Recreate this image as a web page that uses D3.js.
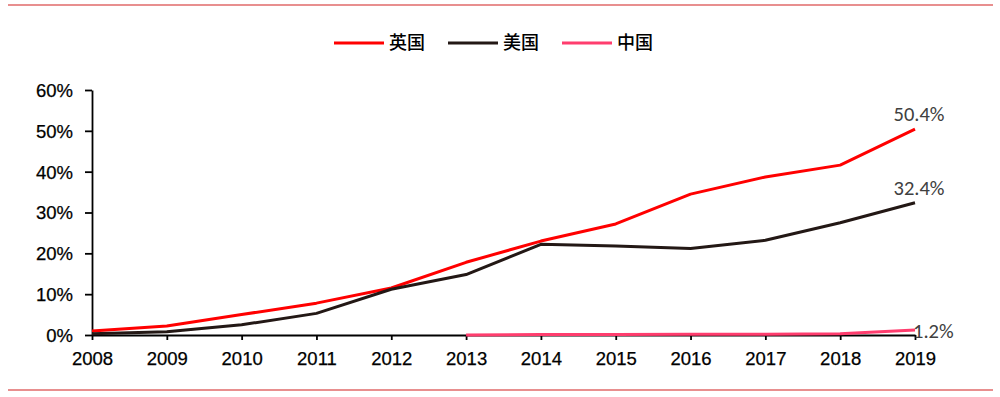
<!DOCTYPE html>
<html>
<head>
<meta charset="utf-8">
<script src="https://cdn.jsdelivr.net/npm/d3@7"></script>
<style>
  body { margin: 0; background: #fff; }
  svg text { font-family: "Liberation Sans", Arial, sans-serif; }
</style>
</head>
<body>
<svg id="chart" width="1000" height="397"></svg>
<script>
// --- Data ---
const years = [2008, 2009, 2010, 2011, 2012, 2013, 2014, 2015, 2016, 2017, 2018, 2019];
const uk = [1.0, 2.2, 5.0, 7.8, 11.5, 17.8, 23.0, 27.2, 34.5, 38.7, 41.6, 50.4];
const us = [0.3, 0.8, 2.5, 5.3, 11.2, 14.8, 22.2, 21.8, 21.2, 23.2, 27.5, 32.4];
const cn = [null, null, null, null, null, 0.0, 0.1, 0.1, 0.2, 0.2, 0.3, 1.2];
const yTicks = [0, 10, 20, 30, 40, 50, 60];

const series = [
  {name: "英国", values: uk, color: "#ff0000"},
  {name: "美国", values: us, color: "#231815"},
  {name: "中国", values: cn, color: "#ff3d6e"}
];

const svg = d3.select("#chart");

// horizontal rules top and bottom
[5, 390].forEach(yy => {
  svg.append("line")
    .attr("x1", 8).attr("x2", 993)
    .attr("y1", yy).attr("y2", yy)
    .attr("stroke", "#e06a6a")
    .attr("stroke-width", 1.5);
});

const x = d3.scaleLinear().domain([2008, 2019]).range([92, 915]);
const y = d3.scaleLinear().domain([0, 60]).range([335, 90]);

// y axis
const yAxis = svg.append("g")
  .attr("transform", "translate(92,0)")
  .call(d3.axisLeft(y).tickValues(yTicks).tickFormat(d => d + "%").tickSize(7).tickSizeOuter(0));
yAxis.select(".domain").attr("stroke", "#000").attr("stroke-width", 1.8);
yAxis.selectAll(".tick line").attr("stroke", "#000").attr("stroke-width", 1.8);
yAxis.selectAll("text")
  .attr("x", -19)
  .attr("dy", "0.35em")
  .style("font-size", "18.5px")
  .style("stroke", "#000").style("stroke-width", 0.25)
  .attr("fill", "#000");

// x axis
const xAxis = svg.append("g")
  .attr("transform", "translate(0,335)")
  .call(d3.axisBottom(x).tickValues(years).tickFormat(d3.format("d")).tickSize(5).tickSizeOuter(0));
xAxis.select(".domain").attr("stroke", "#000").attr("stroke-width", 1.8);
xAxis.selectAll(".tick line").attr("stroke", "#000").attr("stroke-width", 1.8);
xAxis.selectAll("text")
  .attr("y", 17)
  .attr("dy", "0.71em")
  .style("font-size", "18.5px")
  .style("stroke", "#000").style("stroke-width", 0.25)
  .attr("fill", "#000");

// lines
const line = d3.line()
  .defined(d => d.v !== null)
  .x(d => x(d.year))
  .y(d => y(d.v));

series.forEach(s => {
  const pts = years.map((yr, i) => ({year: yr, v: s.values[i]}));
  svg.append("path")
    .datum(pts)
    .attr("fill", "none")
    .attr("stroke", s.color)
    .attr("stroke-width", 3)
    .attr("stroke-linejoin", "round")
    .attr("d", line);
});

// end labels
const last = years.length - 1;
const labelFont = "Carlito, Calibri, 'Open Sans', sans-serif";
function endLabel(txt, lx, ly, anchor) {
  svg.append("text")
    .attr("x", lx).attr("y", ly)
    .attr("text-anchor", anchor)
    .style("font-family", labelFont).style("font-size", "20.5px")
    .attr("fill", "#404040")
    .text(txt);
}
endLabel(uk[last].toFixed(1) + "%", x(years[last]) + 4, y(uk[last]) - 8, "middle");
endLabel(us[last].toFixed(1) + "%", x(years[last]) + 4, y(us[last]) - 8, "middle");
endLabel(cn[last].toFixed(1) + "%", x(years[last]) - 2, y(cn[last]) + 8, "start");

// legend
const legendX = [334, 448, 562];
const leg = svg.append("g");
series.forEach((s, i) => {
  leg.append("line")
    .attr("x1", legendX[i]).attr("x2", legendX[i] + 50)
    .attr("y1", 43).attr("y2", 43)
    .attr("stroke", s.color).attr("stroke-width", 3);
  leg.append("text")
    .attr("x", legendX[i] + 55).attr("y", 43)
    .attr("dy", "0.36em")
    .style("font-family", "'Noto Sans CJK SC', sans-serif")
    .style("font-size", "18px")
    .style("font-weight", "500")
    .attr("fill", "#000")
    .text(s.name);
});
</script>
</body>
</html>
